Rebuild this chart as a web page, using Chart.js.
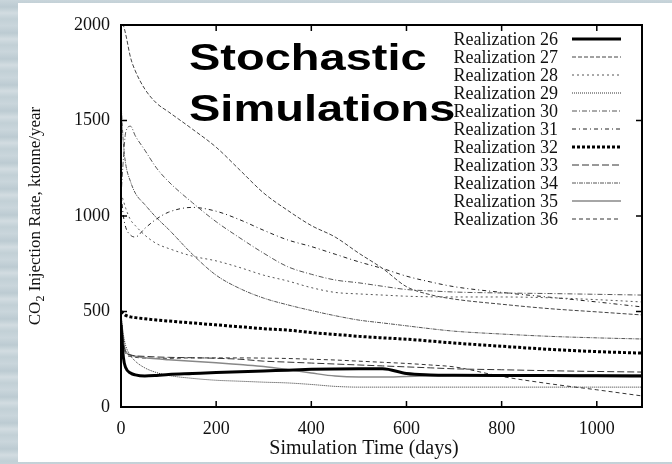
<!DOCTYPE html>
<html>
<head>
<meta charset="utf-8">
<script src="https://cdn.jsdelivr.net/npm/chart.js@4.4.1/dist/chart.umd.min.js"></script>
<style>
  html, body { margin: 0; padding: 0; }
  body {
    width: 672px; height: 464px; overflow: hidden; position: relative;
    background: repeating-linear-gradient(180deg, #c9d5db 0px, #bccbd2 7px, #d2dce1 13px, #c2d0d6 19px, #cad6dc 26px);
  }
  #panel { position: absolute; left: 18px; top: 3px; width: 654px; height: 459px; background: #fff; }
  #wrap { position: absolute; left: 0; top: 0; width: 672px; height: 464px; }
</style>
</head>
<body>
<div id="panel"></div>
<div id="wrap"><canvas id="injChart"></canvas></div>
<script>
// simulation time (days) shared by all realizations
const days = [0, 5, 10, 20, 30, 50, 75, 100, 150, 200, 250, 300, 350, 400, 450, 500, 550, 600, 650, 700, 800, 900, 1000, 1095];

// CO2 injection rate, ktonne/year
const real26 = [430, 260, 205, 178, 168, 162, 165, 170, 175, 180, 184, 188, 193, 197, 199, 200, 200, 175, 168, 166, 165, 165, 163, 162];
const real27 = [2000, 1995, 1950, 1830, 1760, 1665, 1590, 1545, 1455, 1360, 1240, 1120, 1030, 950, 890, 805, 725, 630, 588, 565, 538, 515, 498, 482];
const real28 = [1120, 1080, 1040, 980, 950, 900, 855, 830, 790, 765, 730, 690, 660, 625, 600, 592, 586, 580, 577, 576, 576, 572, 562, 550];
const real29 = [480, 380, 320, 270, 240, 205, 180, 165, 150, 140, 135, 130, 126, 118, 108, 104, 104, 104, 104, 104, 104, 104, 104, 104];
const real30 = [1100, 1300, 1440, 1470, 1420, 1345, 1250, 1180, 1070, 970, 885, 805, 735, 695, 665, 650, 632, 615, 608, 602, 597, 594, 590, 586];
const real31 = [1120, 1000, 940, 900, 890, 935, 985, 1020, 1045, 1025, 980, 925, 875, 840, 800, 760, 725, 685, 655, 630, 600, 575, 550, 524];
const real32 = [500, 490, 480, 472, 468, 462, 455, 450, 440, 430, 420, 410, 403, 390, 380, 370, 362, 355, 345, 335, 318, 302, 290, 282];
const real33 = [480, 340, 290, 272, 268, 265, 262, 260, 258, 255, 250, 240, 235, 230, 225, 220, 215, 210, 205, 200, 195, 190, 186, 183];
const real34 = [1600, 1380, 1270, 1180, 1120, 1060, 990, 930, 800, 690, 620, 570, 535, 505, 478, 455, 440, 425, 410, 397, 382, 370, 362, 356];
const real35 = [480, 350, 290, 272, 266, 258, 252, 248, 240, 232, 222, 212, 196, 178, 162, 157, 157, 160, 163, 165, 166, 167, 168, 168];
const real36 = [480, 330, 280, 264, 260, 256, 255, 255, 257, 257, 257, 256, 254, 250, 246, 240, 234, 228, 220, 210, 160, 122, 90, 58];

const labels = ['Realization 26', 'Realization 27', 'Realization 28', 'Realization 29', 'Realization 30', 'Realization 31',
                'Realization 32', 'Realization 33', 'Realization 34', 'Realization 35', 'Realization 36'];
const xTicks = [0, 200, 400, 600, 800, 1000];
const yTicks = [0, 500, 1000, 1500, 2000];

const series = [real26, real27, real28, real29, real30, real31, real32, real33, real34, real35, real36];
const styles = [
    { color: '#000', width: 3, dash: [] },
    { color: '#444', width: 1, dash: [4, 2] },
    { color: '#555', width: 1, dash: [2, 3] },
    { color: '#333', width: 1, dash: [1, 1] },
    { color: '#555', width: 1, dash: [5, 2, 1, 2] },
    { color: '#222', width: 1, dash: [4, 3, 1, 3] },
    { color: '#000', width: 3, dash: [3, 2] },
    { color: '#333', width: 1, dash: [7, 3] },
    { color: '#555', width: 1, dash: [4, 1, 1, 1] },
    { color: '#888', width: 1.5, dash: [] },
    { color: '#333', width: 1, dash: [4, 3] },
];

const serif = '"Liberation Serif", "Times New Roman", serif';

// black frame and inward tick marks on all four sides
const framePlugin = {
    id: 'frame',
    afterDatasetsDraw(chart) {
        const { ctx, chartArea: a, scales } = chart;
        ctx.save();
        ctx.strokeStyle = '#000';
        ctx.lineWidth = 1.5;
        xTicks.forEach(v => {
            const x = scales.x.getPixelForValue(v);
            ctx.beginPath();
            ctx.moveTo(x, a.bottom); ctx.lineTo(x, a.bottom - 6);
            ctx.moveTo(x, a.top); ctx.lineTo(x, a.top + 6);
            ctx.stroke();
        });
        yTicks.forEach(v => {
            const y = scales.y.getPixelForValue(v);
            ctx.beginPath();
            ctx.moveTo(a.left, y); ctx.lineTo(a.left + 6, y);
            ctx.moveTo(a.right, y); ctx.lineTo(a.right - 6, y);
            ctx.stroke();
        });
        ctx.lineWidth = 2;
        ctx.strokeRect(a.left, a.top, a.right - a.left, a.bottom - a.top);
        ctx.restore();
    }
};

// legend inside the plot, top right, plus heading and axis titles
const textPlugin = {
    id: 'texts',
    afterDraw(chart) {
        const { ctx, chartArea: a } = chart;
        ctx.save();

        // heading
        ctx.save();
        ctx.fillStyle = '#000';
        ctx.font = 'bold 37px "Liberation Sans", Arial, sans-serif';
        ctx.textAlign = 'left';
        ctx.textBaseline = 'alphabetic';
        ctx.translate(189, 70);
        ctx.scale(1.27, 1);
        ctx.fillText('Stochastic', 0, 0);
        ctx.fillText('Simulations', 0, 51);
        ctx.restore();

        // legend
        ctx.font = '18px ' + serif;
        ctx.textAlign = 'right';
        ctx.textBaseline = 'middle';
        chart.data.datasets.forEach((ds, i) => {
            const y = a.top + 14 + i * 18;
            ctx.fillStyle = '#111';
            ctx.fillText(ds.label, a.right - 84, y + 1);
            ctx.beginPath();
            ctx.setLineDash(ds.borderDash);
            ctx.strokeStyle = ds.borderColor;
            ctx.lineWidth = ds.borderWidth;
            ctx.moveTo(a.right - 70, y);
            ctx.lineTo(a.right - 21, y);
            ctx.stroke();
        });
        ctx.setLineDash([]);

        // y title with subscript
        ctx.fillStyle = '#111';
        ctx.textAlign = 'left';
        ctx.textBaseline = 'alphabetic';
        const big = '17px ' + serif, small = '12px ' + serif;
        const rest = ' Injection Rate, ktonne/year';
        ctx.font = big;
        const w1 = ctx.measureText('CO').width, w3 = ctx.measureText(rest).width;
        ctx.font = small;
        const w2 = ctx.measureText('2').width;
        const total = w1 + w2 + w3;
        ctx.save();
        ctx.translate(35, (a.top + a.bottom) / 2);
        ctx.rotate(-Math.PI / 2);
        let x0 = -total / 2;
        ctx.font = big;
        ctx.fillText('CO', x0, 5);
        ctx.font = small;
        ctx.fillText('2', x0 + w1, 9);
        ctx.font = big;
        ctx.fillText(rest, x0 + w1 + w2, 5);
        ctx.restore();

        // x title
        ctx.font = '20px ' + serif;
        ctx.textAlign = 'center';
        ctx.fillText('Simulation Time (days)', 364, 454);
        ctx.restore();
    }
};

const datasets = series.map((vals, i) => ({
    label: labels[i],
    data: days.map((d, j) => ({ x: d, y: vals[j] })),
    borderColor: styles[i].color,
    borderWidth: styles[i].width,
    borderDash: styles[i].dash,
    pointRadius: 0,
    fill: false,
    cubicInterpolationMode: 'monotone',
}));

new Chart(document.getElementById('injChart'), {
    type: 'line',
    data: { datasets: datasets },
    plugins: [framePlugin, textPlugin],
    options: {
        responsive: true,
        maintainAspectRatio: false,
        animation: false,
        layout: { padding: { left: 0, top: 25, right: 30, bottom: 0 } },
        plugins: { legend: { display: false }, tooltip: { enabled: false } },
        scales: {
            x: {
                type: 'linear',
                min: 0,
                max: 1095,
                afterFit: s => { s.height = 57; },
                afterBuildTicks: s => { s.ticks = xTicks.map(v => ({ value: v })); },
                grid: { display: false, drawTicks: false },
                border: { display: false },
                ticks: { padding: 11, color: '#111', font: { family: serif, size: 18 }, callback: v => String(v) }
            },
            y: {
                min: 0,
                max: 2000,
                afterFit: s => { s.width = 121; },
                afterBuildTicks: s => { s.ticks = yTicks.map(v => ({ value: v })); },
                grid: { display: false, drawTicks: false },
                border: { display: false },
                ticks: { padding: 11, color: '#111', font: { family: serif, size: 18 }, callback: v => String(v) }
            }
        }
    }
});
</script>
</body>
</html>
